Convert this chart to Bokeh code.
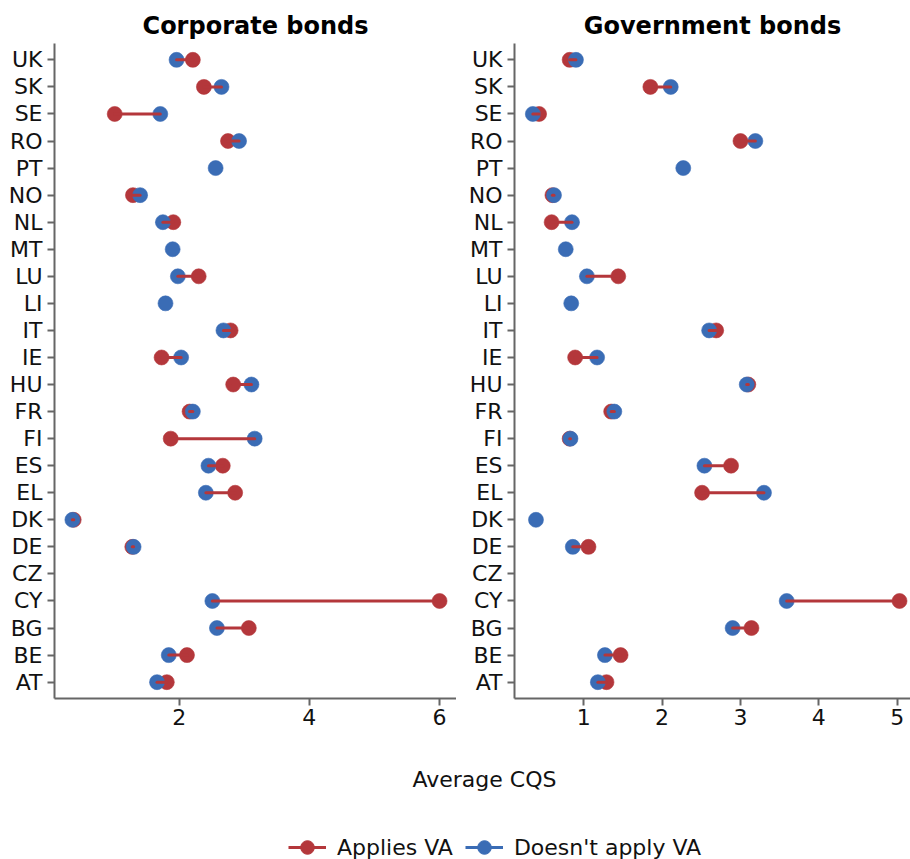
import math
from bokeh.plotting import figure
from bokeh.models import (FactorRange, Range1d, FixedTicker, Label, Legend, LegendItem,
                          ColumnDataSource)
from bokeh.layouts import row, column
from bokeh.embed import file_html
from bokeh.resources import INLINE

nan = float("nan")

# Countries, bottom to top
countries = ["AT", "BE", "BG", "CY", "CZ", "DE", "DK", "EL", "ES", "FI", "FR", "HU",
             "IE", "IT", "LI", "LU", "MT", "NL", "NO", "PT", "RO", "SE", "SK", "UK"]

corp_va = [1.81, 2.12, 3.07, 6.00, nan, 1.28, 0.38, 2.86, 2.67, 1.87, 2.16, 2.83,
           1.73, 2.79, nan, 2.30, nan, 1.91, 1.29, nan, 2.75, 1.01, 2.38, 2.21]
corp_no_va = [1.66, 1.84, 2.58, 2.51, nan, 1.30, 0.36, 2.41, 2.45, 3.16, 2.21, 3.11,
              2.03, 2.68, 1.79, 1.98, 1.90, 1.75, 1.40, 2.56, 2.92, 1.71, 2.65, 1.96]

gov_va = [1.29, 1.47, 3.14, 5.03, nan, 1.06, nan, 2.51, 2.88, 0.82, 1.35, 3.10,
          0.89, 2.69, nan, 1.44, nan, 0.59, 0.60, nan, 3.00, 0.43, 1.85, 0.82]
gov_no_va = [1.18, 1.27, 2.90, 3.59, nan, 0.86, 0.39, 3.30, 2.54, 0.83, 1.39, 3.08,
             1.17, 2.60, 0.84, 1.04, 0.77, 0.85, 0.62, 2.27, 3.19, 0.35, 2.11, 0.90]

corp_ticks = [2, 4, 6]
gov_ticks = [1, 2, 3, 4, 5]

titles = ["Corporate bonds", "Government bonds"]
x_label = "Average CQS"
series_labels = ["Applies VA", "Doesn't apply VA"]

RED = "#b4373b"
BLUE = "#3a6cb5"
AXIS = "#666666"
FONT = "DejaVu Sans"
TXT = "#111111"


def panel(title, va, nova, ticks, xr, width, border_left):
    p = figure(width=width, height=735, y_range=FactorRange(*countries, range_padding=0.104,
                                                            range_padding_units="absolute"),
               x_range=Range1d(*xr), output_backend="svg", toolbar_location=None,
               min_border_left=border_left, min_border_right=0, min_border_top=43,
               min_border_bottom=37)
    p.title.text = title
    p.title.align = "center"
    p.title.text_font = FONT
    p.title.text_font_size = "24px"
    p.title.text_font_style = "bold"
    p.title.text_color = "#000000"
    p.title.standoff = 8
    p.outline_line_color = None
    p.grid.visible = False
    p.background_fill_color = "white"
    src = ColumnDataSource(dict(c=countries, va=va, nova=nova))
    p.scatter("va", "c", source=src, size=15, fill_color=RED, line_color=RED,
              line_alpha=0.6)
    p.scatter("nova", "c", source=src, size=15, fill_color=BLUE, line_color=BLUE,
              line_alpha=0.6)
    p.segment(x0="va", y0="c", x1="nova", y1="c", source=src, line_color=RED,
              line_width=3, line_cap="round")
    for ax in (p.xaxis[0], p.yaxis[0]):
        ax.axis_line_color = AXIS
        ax.axis_line_width = 2
        ax.major_tick_line_color = AXIS
        ax.major_tick_line_width = 2
        ax.major_tick_in = 0
        ax.major_tick_out = 7
        ax.minor_tick_line_color = None
        ax.major_label_text_font = FONT
        ax.major_label_text_font_size = "22px"
        ax.major_label_text_color = TXT
    p.xaxis.ticker = FixedTicker(ticks=ticks)
    p.xaxis.major_label_standoff = 3
    p.yaxis.major_label_standoff = 5
    return p


left = panel(titles[0], corp_va, corp_no_va, corp_ticks, (0.085, 6.26), 456, 54)
right = panel(titles[1], gov_va, gov_no_va, gov_ticks, (0.116, 5.17), 454, 58)

bottom = figure(width=910, height=124, x_range=Range1d(0, 910), y_range=Range1d(0, 124),
                output_backend="svg", toolbar_location=None, x_axis_location=None,
                y_axis_location=None, min_border=0)
bottom.outline_line_color = None
bottom.grid.visible = False
bottom.add_layout(Label(x=484, y=80, text=x_label, text_align="center",
                        text_baseline="middle", text_font=FONT, text_font_size="22px",
                        text_color=TXT))

dummy = ColumnDataSource(dict(x=[nan], y=[nan]))
items = []
for lab, col in zip(series_labels, [RED, BLUE]):
    rl = bottom.line("x", "y", source=dummy, line_color=col, line_width=3)
    rs = bottom.scatter("x", "y", source=dummy, size=15, fill_color=col, line_color=col)
    items.append(LegendItem(label=lab, renderers=[rl, rs]))
legend = Legend(items=items, orientation="horizontal", location=(288, -5),
                glyph_width=38, glyph_height=34, label_standoff=11, spacing=12,
                padding=0, margin=0, border_line_color=None,
                background_fill_alpha=0, label_text_font=FONT,
                label_text_font_size="22px", label_text_color=TXT,
                label_text_baseline="middle")
bottom.add_layout(legend, "center")

layout = column(row(left, right), bottom)
open("out.html", "w").write(file_html(layout, INLINE))
